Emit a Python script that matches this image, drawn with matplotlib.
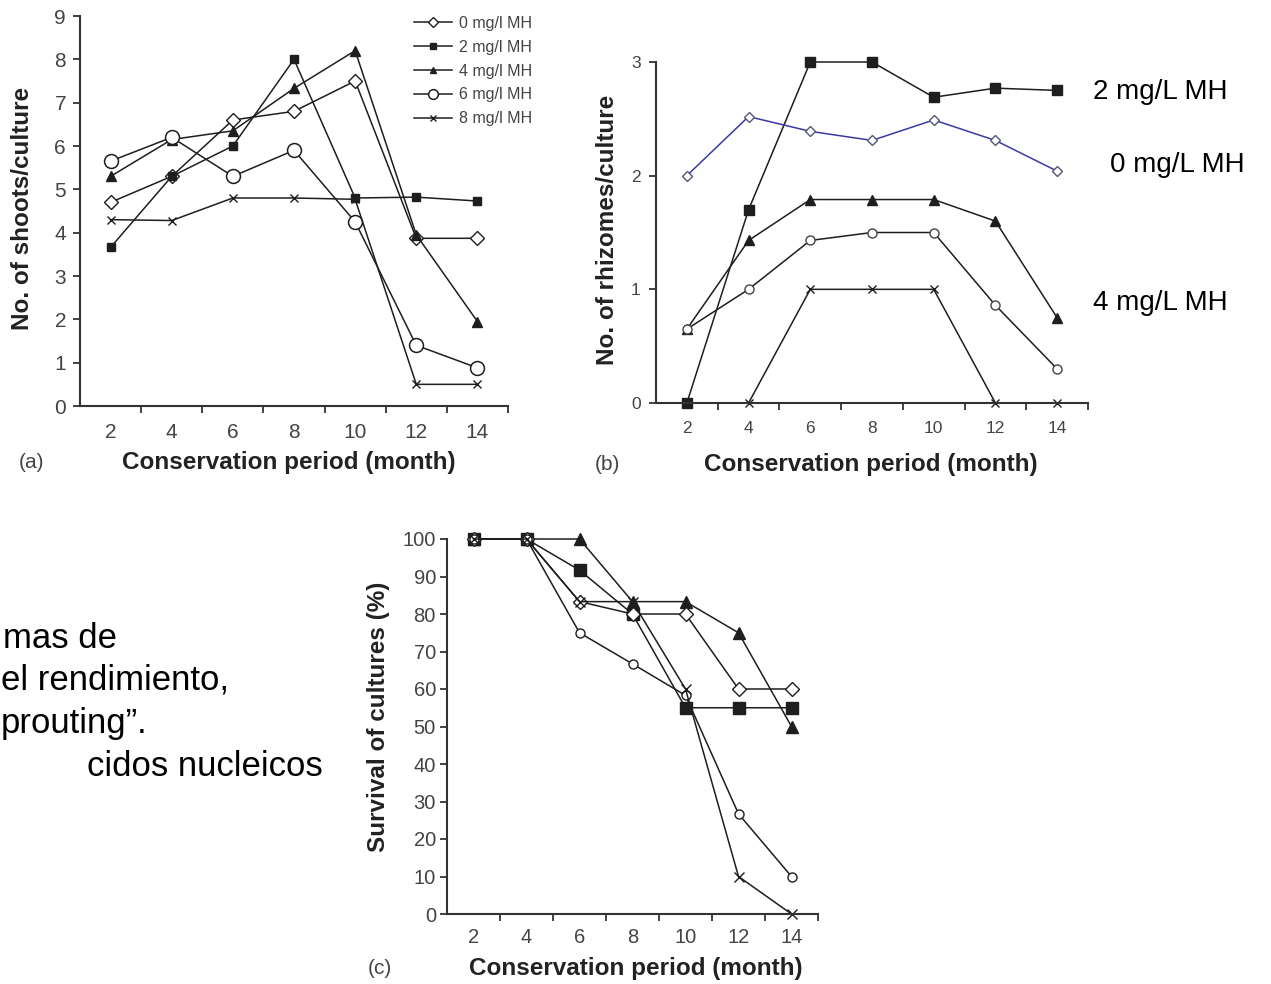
import matplotlib
matplotlib.use("Agg")
from matplotlib import pyplot as plt

plt.rcParams['font.family'] = ['Liberation Sans', 'DejaVu Sans']

W, H = 1271, 984

months = [2, 4, 6, 8, 10, 12, 14]
doses = ['0 mg/l MH', '2 mg/l MH', '4 mg/l MH', '6 mg/l MH', '8 mg/l MH']

# (a) shoots per culture
shoots_0 = [4.7, 5.3, 6.6, 6.8, 7.5, 3.87, 3.87]
shoots_2 = [3.66, 5.3, 6.0, 8.0, 4.8, 4.82, 4.73]
shoots_4 = [5.3, 6.15, 6.35, 7.33, 8.2, 3.95, 1.95]
shoots_6 = [5.65, 6.2, 5.3, 5.9, 4.25, 1.4, 0.88]
shoots_8 = [4.3, 4.28, 4.8, 4.8, 4.77, 0.5, 0.5]

# (b) rhizomes per culture
rhiz_0 = [2.0, 2.52, 2.39, 2.31, 2.49, 2.31, 2.04]
rhiz_2 = [0.0, 1.7, 3.0, 3.0, 2.69, 2.77, 2.75]
rhiz_4 = [0.65, 1.43, 1.79, 1.79, 1.79, 1.6, 0.75]
rhiz_6 = [0.65, 1.0, 1.43, 1.5, 1.5, 0.86, 0.3]
rhiz_8 = [0.0, 0.0, 1.0, 1.0, 1.0, 0.0, 0.0]

# (c) survival of cultures (%)
surv_0 = [100, 100, 83.3, 80, 80, 60, 60]
surv_2 = [100, 100, 91.7, 80, 55, 55, 55]
surv_4 = [100, 100, 100, 83.3, 83.3, 75, 50]
surv_6 = [100, 100, 75, 66.7, 58.3, 26.7, 10]
surv_8 = [100, 100, 83.3, 83.3, 60, 10, 0]

side_notes = ['2 mg/L MH', '0 mg/L MH', '4 mg/L MH']
slide_lines = ['mas de', 'el rendimiento,', 'prouting\u201d.', 'cidos nucleicos']

LC = '#1e1e1e'
TC = '#444444'


def px_axes(x0, x1, y_top, y_bot):
    return [x0 / W, 1 - y_bot / H, (x1 - x0) / W, (y_bot - y_top) / H]


def style_axis(ax, ymax, yticks, tsize, xpad, ypad):
    ax.set_xlim(1, 15)
    ax.set_ylim(0, ymax)
    for s in ['top', 'right']:
        ax.spines[s].set_visible(False)
    for s in ['left', 'bottom']:
        ax.spines[s].set_linewidth(1.5)
        ax.spines[s].set_color('#333333')
    ax.set_xticks(months)
    ax.set_xticks([3, 5, 7, 9, 11, 13, 15], minor=True)
    ax.set_yticks(yticks)
    ax.tick_params(axis='x', which='major', length=0, pad=xpad,
                   labelsize=tsize, labelcolor=TC)
    ax.tick_params(axis='x', which='minor', length=5, width=1.3,
                   direction='out', color='#333333')
    ax.tick_params(axis='y', length=5, width=1.3, direction='out',
                   pad=ypad, labelsize=tsize, labelcolor=TC, color='#333333')


fig = plt.figure(figsize=(W / 100, H / 100), dpi=100)

# ---- (a)
ax1 = fig.add_axes(px_axes(80, 508, 16, 406))
style_axis(ax1, 9, range(0, 10), 15, 12, 5)
kw = dict(color=LC, lw=1.1, clip_on=False)
h0, = ax1.plot(months, shoots_0, marker='D', ms=7, mfc='white', mec=LC, label=doses[0], **kw)
h2, = ax1.plot(months, shoots_2, marker='s', ms=6, mfc=LC, mec=LC, label=doses[1], **kw)
h4, = ax1.plot(months, shoots_4, marker='^', ms=7, mfc=LC, mec=LC, label=doses[2], **kw)
h6, = ax1.plot(months, shoots_6, marker='o', ms=10, mfc='white', mec=LC, mew=1.1, label=doses[3], **kw)
h8, = ax1.plot(months, shoots_8, marker='x', ms=6, mec=LC, label=doses[4], **kw)
fig.legend(handles=[h0, h2, h4, h6, h8], loc='upper left',
           bbox_to_anchor=(406 / W, 1 - 8 / H), frameon=False,
           fontsize=11.5, labelspacing=0.55, handlelength=2.4,
           handletextpad=0.4, borderpad=0, labelcolor=TC, markerscale=0.7)

# ---- (b)
ax2 = fig.add_axes(px_axes(656, 1088, 62, 403))
style_axis(ax2, 3, range(0, 4), 12.5, 13, 6)
ax2.plot(months, rhiz_2, marker='s', ms=7, mfc=LC, mec=LC, **kw)
ax2.plot(months, rhiz_0, marker='D', ms=5.5, mfc='white', mec='#555577',
         color='#3a3aa0', lw=1.1, clip_on=False)
ax2.plot(months, rhiz_4, marker='^', ms=7, mfc=LC, mec=LC, **kw)
ax2.plot(months, rhiz_6, marker='o', ms=6.5, mfc='white', mec='#444444', **kw)
ax2.plot(months, rhiz_8, marker='x', ms=6, mec=LC, **kw)

# ---- (c)
ax3 = fig.add_axes(px_axes(447, 818, 539, 914))
style_axis(ax3, 100, range(0, 101, 10), 14.5, 10, 3)
ax3.plot(months, surv_4, marker='^', ms=8, mfc=LC, mec=LC, **kw)
ax3.plot(months, surv_2, marker='s', ms=8, mfc=LC, mec=LC, **kw)
ax3.plot(months, surv_0, marker='D', ms=7, mfc='white', mec=LC, **kw)
ax3.plot(months, surv_6, marker='o', ms=6.5, mfc='white', mec=LC, **kw)
ax3.plot(months, surv_8, marker='x', ms=7, mec=LC, **kw)


def ftext(x, y, s, **k):
    fig.text(x / W, 1 - y / H, s, **k)


lab = dict(fontsize=17.5, fontweight='bold', color='#222222', ha='center', va='center')
ftext(289, 463, 'Conservation period (month)', **lab)
ftext(871, 465, 'Conservation period (month)', **lab)
ftext(636, 968, 'Conservation period (month)', **lab)
ftext(23, 208, 'No. of shoots/culture', rotation=90, **lab)
ftext(607, 230, 'No. of rhizomes/culture', rotation=90, **lab)
ftext(378, 717, 'Survival of cultures (%)', rotation=90, **lab)

tag = dict(fontsize=15, color=TC, ha='center', va='center')
ftext(31, 463, '(a)', **tag)
ftext(607, 465, '(b)', **tag)
ftext(380, 968, '(c)', **tag)

note = dict(fontsize=20, color='black', ha='left', va='baseline')
ftext(1093, 99, side_notes[0], **note)
ftext(1110, 172, side_notes[1], **note)
ftext(1093, 310, side_notes[2], **note)

body = dict(fontsize=25, color='black', ha='left', va='baseline')
ftext(3, 648, slide_lines[0], **body)
ftext(1, 690, slide_lines[1], **body)
ftext(1, 733, slide_lines[2], **body)
ftext(87, 776, slide_lines[3], **body)

plt.savefig('out.png', dpi=100)
plt.close('all')
